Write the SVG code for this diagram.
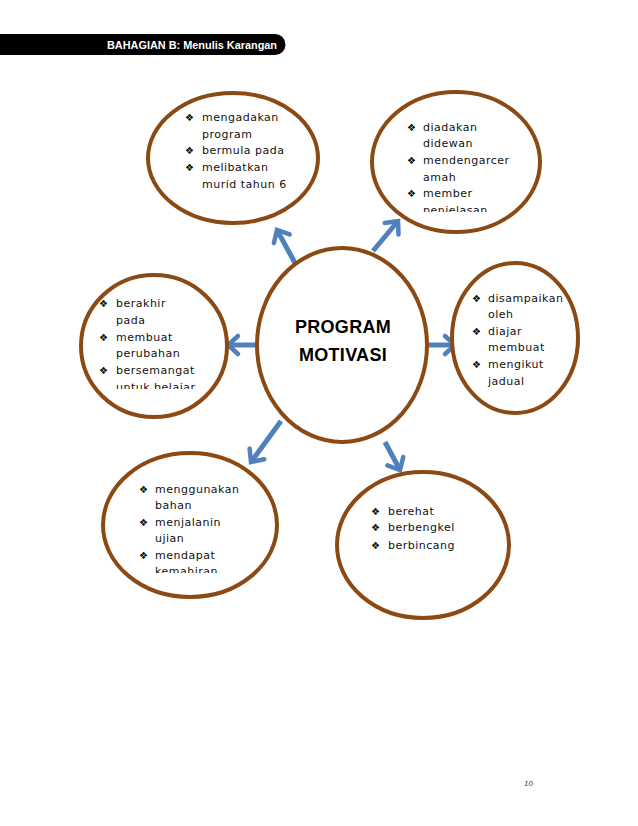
<svg xmlns="http://www.w3.org/2000/svg" width="638" height="826" viewBox="0 0 638 826">
<style>
.bub{fill:#fff;stroke:#8B4A14;stroke-width:4}
.t{font-family:"DejaVu Sans",Verdana,sans-serif;font-size:11px;letter-spacing:0.5px;fill:#111}
.b{font-family:"DejaVu Sans",sans-serif;font-size:10px;fill:#000}
.arr{stroke:#4F81BD;stroke-width:5;fill:none;marker-end:url(#ah)}
</style>
<defs>
<marker id="ah" markerUnits="userSpaceOnUse" markerWidth="30" markerHeight="30" viewBox="-15 -15 30 30" refX="0" refY="0" orient="auto">
<path d="M-10,-9 L0,0 L-10,9" fill="none" stroke="#4F81BD" stroke-width="4.5" stroke-linecap="round"/>
</marker>
<clipPath id="c2"><rect x="380" y="100" width="160" height="112"/></clipPath>
<clipPath id="c3"><rect x="90" y="290" width="140" height="99"/></clipPath>
<clipPath id="c6"><rect x="130" y="470" width="150" height="103"/></clipPath>
</defs>
<rect width="638" height="826" fill="#fff"/>
<g id="header">
<path d="M0,34 H275 A10.5,10.5 0 0 1 275,55 H0 Z" fill="#000"/>
<text x="277" y="49" text-anchor="end" textLength="170" lengthAdjust="spacingAndGlyphs" font-family="Liberation Sans,Arial,sans-serif" font-size="11" font-weight="bold" fill="#fff">BAHAGIAN B: Menulis Karangan</text>
</g>
<g id="connectors">
<line class="arr" x1="295" y1="263" x2="277" y2="230"/>
<line class="arr" x1="373" y1="251" x2="398" y2="221"/>
<line class="arr" x1="258" y1="345" x2="228" y2="345"/>
<line class="arr" x1="427" y1="345" x2="455" y2="345"/>
<line class="arr" x1="281" y1="421" x2="251" y2="462"/>
<line class="arr" x1="385" y1="442" x2="400" y2="470"/>
</g>
<g id="center">
<ellipse class="bub" cx="342" cy="345" rx="85" ry="97"/>
<text x="343" y="333" text-anchor="middle" font-family="Liberation Sans,Arial,sans-serif" font-size="18" font-weight="bold" letter-spacing="0.3" fill="#000">PROGRAM</text>
<text x="343" y="361" text-anchor="middle" font-family="Liberation Sans,Arial,sans-serif" font-size="18" font-weight="bold" letter-spacing="0.3" fill="#000">MOTIVASI</text>
</g>
<g id="node-topleft">
<ellipse class="bub" cx="233" cy="158" rx="85" ry="65"/>
<text class="b" x="185" y="121">❖︎</text><text class="t" x="202" y="121">mengadakan</text>
<text class="t" x="202" y="138">program</text>
<text class="b" x="185" y="154">❖︎</text><text class="t" x="202" y="154">bermula pada</text>
<text class="b" x="185" y="171">❖︎</text><text class="t" x="202" y="171">melibatkan</text>
<text class="t" x="202" y="188">murid tahun 6</text>
</g>
<g id="node-topright">
<ellipse class="bub" cx="456" cy="162" rx="84" ry="70"/>
<g clip-path="url(#c2)">
<text class="b" x="407" y="131">❖︎</text><text class="t" x="423" y="131">diadakan</text>
<text class="t" x="423" y="147">didewan</text>
<text class="b" x="407" y="164">❖︎</text><text class="t" x="423" y="164">mendengarcer</text>
<text class="t" x="423" y="181">amah</text>
<text class="b" x="407" y="197">❖︎</text><text class="t" x="423" y="197">member</text>
<text class="t" x="423" y="214">penjelasan</text>
</g>
</g>
<g id="node-left">
<ellipse class="bub" cx="154" cy="346" rx="73" ry="71"/>
<g clip-path="url(#c3)">
<text class="b" x="99" y="307">❖︎</text><text class="t" x="116" y="307">berakhir</text>
<text class="t" x="116" y="324">pada</text>
<text class="b" x="99" y="341">❖︎</text><text class="t" x="116" y="341">membuat</text>
<text class="t" x="116" y="357">perubahan</text>
<text class="b" x="99" y="374">❖︎</text><text class="t" x="116" y="374">bersemangat</text>
<text class="t" x="116" y="391">untuk belajar</text>
</g>
</g>
<g id="node-right">
<ellipse class="bub" cx="515" cy="338" rx="63" ry="75"/>
<text class="b" x="472" y="302">❖︎</text><text class="t" x="488" y="302">disampaikan</text>
<text class="t" x="488" y="318">oleh</text>
<text class="b" x="472" y="335">❖︎</text><text class="t" x="488" y="335">diajar</text>
<text class="t" x="488" y="351">membuat</text>
<text class="b" x="472" y="368">❖︎</text><text class="t" x="488" y="368">mengikut</text>
<text class="t" x="488" y="385">jadual</text>
</g>
<g id="node-bottomleft">
<ellipse class="bub" cx="190" cy="525" rx="87" ry="72"/>
<g clip-path="url(#c6)">
<text class="b" x="139" y="493">❖︎</text><text class="t" x="155" y="493">menggunakan</text>
<text class="t" x="155" y="509">bahan</text>
<text class="b" x="139" y="526">❖︎</text><text class="t" x="155" y="526">menjalanin</text>
<text class="t" x="155" y="542">ujian</text>
<text class="b" x="139" y="559">❖︎</text><text class="t" x="155" y="559">mendapat</text>
<text class="t" x="155" y="575">kemahiran</text>
</g>
</g>
<g id="node-bottomright">
<ellipse class="bub" cx="423" cy="545" rx="86" ry="73"/>
<text class="b" x="371" y="515">❖︎</text><text class="t" x="388" y="515">berehat</text>
<text class="b" x="371" y="531">❖︎</text><text class="t" x="388" y="531">berbengkel</text>
<text class="b" x="371" y="549">❖︎</text><text class="t" x="388" y="549">berbincang</text>
</g>
<text x="524" y="786" font-family="Liberation Sans,Arial,sans-serif" font-size="8" font-style="italic" fill="#444">10</text>
</svg>
